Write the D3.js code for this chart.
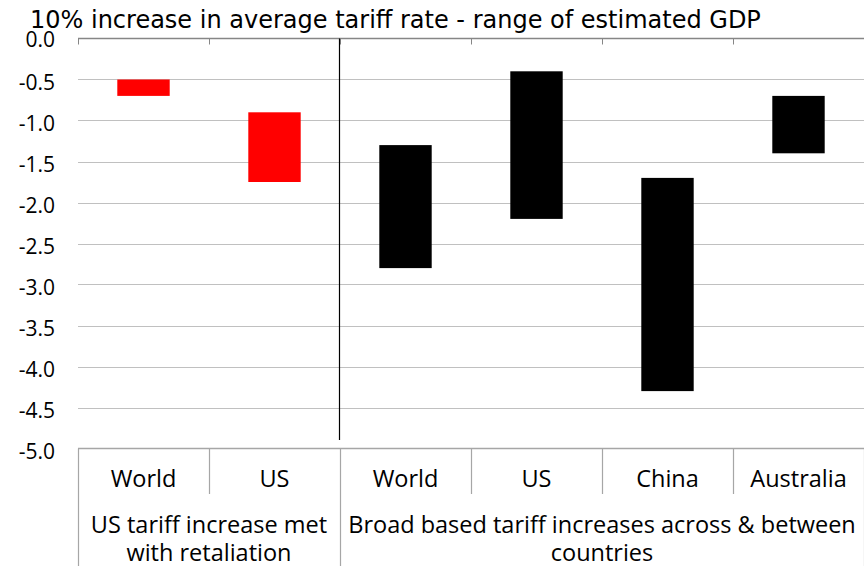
<!DOCTYPE html>
<html><head><meta charset="utf-8">
<script src="https://cdn.jsdelivr.net/npm/d3@7"></script>
<style>body{margin:0;background:#fff}svg{display:block}text{font-family:"Open Sans","Noto Sans",sans-serif;fill:#000}</style>
</head><body><svg id="c" width="864" height="566"></svg>
<script>
const title = "10% increase in average tariff rate - range of estimated GDP";
const categories = ["World","US","World","US","China","Australia"];
const groupNames = ["US tariff increase met with retaliation","Broad based tariff increases across & between countries"];
const groupOf = [0,0,1,1,1,1];
const highs = [-0.5,-0.9,-1.3,-0.4,-1.7,-0.7];
const lows = [-0.7,-1.75,-2.8,-2.2,-4.3,-1.4];
const groupColors = ["#ff0000","#000000"];
const yTicks = [0,-0.5,-1,-1.5,-2,-2.5,-3,-3.5,-4,-4.5,-5];

const svg = d3.select("#c");
const L = 78, R = 864, T = 38.5, B = 448.5;
const x = d3.scaleBand().domain(d3.range(categories.length)).range([L,R]).paddingInner(0.6).paddingOuter(0.3);
const step = x.step();
const edge = i => L + i*step;
const y = d3.scaleLinear().domain([0,-5]).range([T,B]);

// title, fitted to the reference width
const tt = svg.append("text").attr("x",30).attr("y",28).attr("font-size",21)
  .style("font-family","'DejaVu Sans',sans-serif").text(title);
const tw = tt.node().getComputedTextLength();
tt.attr("font-size", 21*731/tw);

// gridlines
svg.append("g").selectAll("line").data(yTicks.slice(1,-1)).join("line")
  .attr("x1",L).attr("x2",R).attr("y1",d=>Math.round(y(d))+0.5).attr("y2",d=>Math.round(y(d))+0.5)
  .attr("stroke","#c0c0c0").attr("stroke-width",1.2);

// y labels
svg.append("g").selectAll("text").data(yTicks).join("text")
  .attr("x",55).attr("y",(d,i)=>y(d)+(i===0?8.5:10.5)).attr("text-anchor","end").attr("font-size",21)
  .text(d=>d3.format(".1f")(d).replace("−","-"));

// bars
svg.append("g").selectAll("rect").data(categories).join("rect")
  .attr("x",(d,i)=>x(i)).attr("width",x.bandwidth())
  .attr("y",(d,i)=>y(highs[i])).attr("height",(d,i)=>y(lows[i])-y(highs[i]))
  .attr("fill",(d,i)=>groupColors[groupOf[i]]);

// top axis (zero line) with ticks
svg.append("line").attr("x1",L).attr("x2",R).attr("y1",T).attr("y2",T).attr("stroke","#868686").attr("stroke-width",1.3);
svg.append("g").selectAll("line").data(d3.range(categories.length+1)).join("line")
  .attr("x1",i=>Math.round(edge(i))+0.5).attr("x2",i=>Math.round(edge(i))+0.5).attr("y1",T).attr("y2",T+6)
  .attr("stroke","#868686");

// separator
const sepIdx = 2;
svg.append("line").attr("x1",Math.round(edge(sepIdx))-0.5).attr("x2",Math.round(edge(sepIdx))-0.5).attr("y1",T).attr("y2",440)
  .attr("stroke","#000").attr("stroke-width",1.2);

// bottom table
svg.append("line").attr("x1",L).attr("x2",R).attr("y1",B).attr("y2",B).attr("stroke","#a6a6a6").attr("stroke-width",1.3);
const groupStarts = [0,2];
svg.append("g").selectAll("line").data(d3.range(categories.length+1)).join("line")
  .attr("x1",i=>Math.round(edge(i))+0.5).attr("x2",i=>Math.round(edge(i))+0.5).attr("y1",B)
  .attr("y2",i=>groupStarts.includes(i)||i===categories.length?566:494)
  .attr("stroke","#a6a6a6").attr("stroke-width",1.2);

svg.append("g").selectAll("text").data(categories).join("text")
  .attr("x",(d,i)=>x(i)+x.bandwidth()/2).attr("y",487).attr("text-anchor","middle").attr("font-size",23.5)
  .text(d=>d);

const groupLines = [["US tariff increase met","with retaliation"],["Broad based tariff increases across & between","countries"]];
groupNames.forEach((g,gi)=>{
  const s = groupStarts[gi], e = gi+1<groupStarts.length?groupStarts[gi+1]:categories.length;
  const cx = (edge(s)+edge(e))/2;
  const t = svg.append("text").attr("text-anchor","middle").attr("font-size",23.5).attr("data-name",g);
  groupLines[gi].forEach((ln,li)=>t.append("tspan").attr("x",cx).attr("y",533+li*28).text(ln));
});
</script></body></html>
